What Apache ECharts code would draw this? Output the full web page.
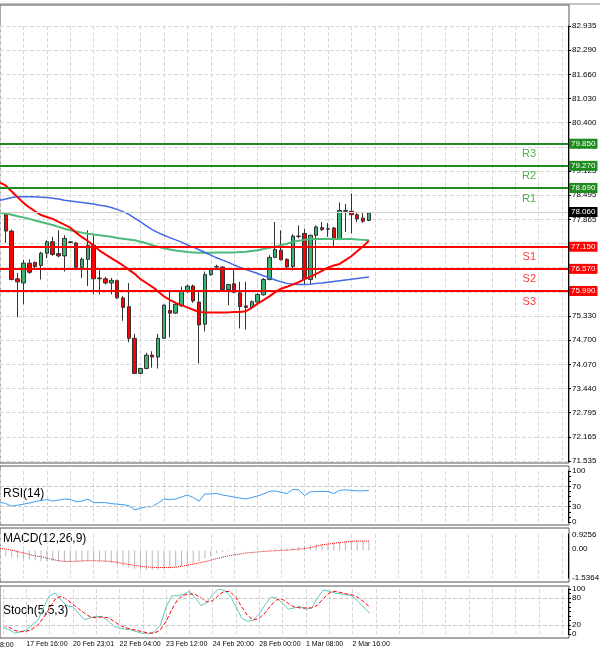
<!DOCTYPE html>
<html>
<head>
<meta charset="utf-8">
<script src="https://cdn.jsdelivr.net/npm/echarts@6/dist/echarts.min.js"></script>
<style>
html,body{margin:0;padding:0;background:#fff;}
#chart{width:600px;height:656px;}
</style>
</head>
<body>
<div id="chart"></div>
<script>
// candles: [open, close, low, high]
var candles = [
  [78.03,77.56,77.25,78.06],[77.56,76.29,76.27,77.60],[76.31,76.23,75.30,76.46],[76.20,76.72,75.64,76.81],
  [76.72,76.48,76.44,76.82],[76.74,76.63,76.59,76.76],[76.66,76.98,76.29,77.02],[76.98,77.28,76.85,77.32],
  [77.28,76.95,76.91,77.41],[76.97,76.91,76.87,77.58],[76.91,77.37,76.50,77.45],[77.28,77.26,77.25,77.30],
  [77.25,76.61,76.57,77.28],[76.61,76.82,76.33,76.87],[76.82,77.19,76.12,77.58],[77.19,76.31,75.90,77.45],
  [76.33,76.31,75.90,76.55],[76.31,76.20,76.16,76.36],[76.20,76.27,75.90,76.33],[76.26,75.81,75.79,76.29],
  [75.81,75.56,75.21,75.86],[75.58,74.75,74.65,76.20],[74.75,73.83,73.81,74.87],[73.83,73.96,73.81,73.98],
  [73.96,74.31,73.94,74.37],[74.31,74.26,73.98,74.41],[74.26,74.75,73.96,74.87],[74.75,75.62,74.74,75.64],
  [75.48,75.41,74.78,75.99],[75.41,75.64,75.39,75.70],[75.60,75.99,75.58,76.10],[75.99,76.12,75.94,76.16],
  [76.12,75.73,75.68,76.16],[75.70,75.10,74.09,75.99],[75.12,76.42,74.93,76.50],[76.42,76.55,76.39,76.59],
  [76.63,76.62,76.55,76.68],[76.62,76.03,76.01,76.63],[76.03,76.16,75.62,76.18],[76.18,75.96,75.93,76.55],
  [75.94,75.58,75.01,76.23],[75.60,75.56,74.98,76.23],[75.56,75.71,75.53,75.74],[75.70,75.90,75.68,75.93],
  [75.89,76.29,75.87,76.33],[76.29,76.87,76.27,76.93],[76.87,77.08,76.85,77.80],[77.06,76.81,76.79,77.58],
  [76.82,76.62,76.56,76.85],[76.63,77.43,76.53,77.48],[77.43,77.42,77.37,77.71],[77.50,76.31,76.16,77.62],
  [76.29,77.45,76.16,77.47],[77.45,77.67,76.33,77.71],[77.65,77.60,77.56,77.80],[77.62,77.61,77.41,77.77],
  [77.64,77.37,77.17,77.67],[77.35,78.10,77.32,78.31],[78.10,78.08,77.54,78.27],[78.08,77.99,77.50,78.55],
  [77.99,77.88,77.80,78.03],[77.90,77.82,77.77,78.03],[77.84,78.04,77.82,78.06]
];
// moving averages, first value is the left edge of the chart
var maRed = [78.83,78.75,78.60,78.45,78.30,78.18,78.08,77.98,77.93,77.88,77.80,77.73,77.65,77.52,77.40,77.30,77.18,
  77.05,76.95,76.85,76.76,76.66,76.55,76.44,76.30,76.20,76.10,75.98,75.85,75.76,75.68,75.62,75.56,75.50,75.44,
  75.43,75.43,75.43,75.43,75.43,75.44,75.44,75.46,75.55,75.66,75.75,75.85,75.96,76.05,76.10,76.16,76.22,76.30,
  76.36,76.44,76.52,76.60,76.66,76.70,76.80,76.90,77.03,77.16,77.31];
var maGreen = [78.04,78.02,77.99,77.95,77.92,77.88,77.84,77.80,77.76,77.72,77.67,77.62,77.58,77.55,77.52,77.49,77.47,
  77.45,77.43,77.41,77.38,77.36,77.34,77.32,77.28,77.24,77.19,77.15,77.11,77.08,77.05,77.03,77.01,77.00,76.99,
  76.99,76.99,77.00,77.00,77.00,77.00,77.01,77.02,77.04,77.06,77.09,77.12,77.15,77.19,77.23,77.28,77.31,77.33,
  77.35,77.35,77.35,77.35,77.35,77.35,77.35,77.35,77.34,77.33,77.32];
var maBlue = [78.37,78.40,78.44,78.46,78.46,78.46,78.46,78.45,78.44,78.42,78.40,78.37,78.35,78.33,78.31,78.29,78.27,
  78.24,78.22,78.18,78.13,78.07,78.00,77.90,77.80,77.70,77.60,77.52,77.45,77.39,77.33,77.27,77.20,77.14,77.07,
  77.00,76.93,76.86,76.80,76.74,76.67,76.61,76.55,76.50,76.45,76.39,76.34,76.28,76.23,76.19,76.17,76.16,76.16,
  76.17,76.19,76.20,76.22,76.24,76.26,76.28,76.30,76.32,76.34,76.36];
var rsi = [39,36,31,33,35,37,40,42,44,41,43,45,44,40,41,45,38,38,38,36,35,34,32,24,27,30,30,37,45,44,45,49,53,48,41,
  55,55,56,53,51,49,47,45,48,51,55,60,61,58,56,64,63,52,59,60,60,60,56,62,63,62,61,61,62];
var macdHist = [-0.28,-0.32,-0.36,-0.40,-0.44,-0.50,-0.55,-0.60,-0.60,-0.60,-0.60,-0.60,-0.60,-0.60,-0.60,-0.60,-0.60,
  -0.62,-0.66,-0.70,-0.78,-0.88,-0.95,-1.02,-1.06,-1.08,-1.08,-1.08,-1.06,-1.00,-0.92,-0.86,-0.78,-0.70,-0.60,
  -0.45,-0.32,-0.15,-0.08,-0.04,-0.03,-0.01,0.00,0.00,0.02,0.04,0.06,0.08,0.10,0.11,0.15,0.20,0.25,0.28,0.33,
  0.37,0.40,0.44,0.48,0.50,0.52,0.53,0.53,0.53];
var macdSignal = [0.11,0.08,0.02,-0.06,-0.13,-0.22,-0.30,-0.34,-0.42,-0.50,-0.57,-0.61,-0.61,-0.60,-0.58,-0.57,-0.57,
  -0.58,-0.59,-0.61,-0.66,-0.72,-0.78,-0.84,-0.88,-0.92,-0.94,-0.95,-0.95,-0.95,-0.93,-0.88,-0.82,-0.75,-0.69,
  -0.62,-0.54,-0.45,-0.37,-0.30,-0.24,-0.19,-0.14,-0.11,-0.08,-0.05,-0.03,-0.01,0.00,0.02,0.05,0.08,0.11,0.16,
  0.24,0.32,0.36,0.40,0.44,0.48,0.51,0.53,0.53,0.53];
var stochMain = [14,10,2,5,9,20,31,60,85,91,75,62,61,45,32,36,39,39,30,18,13,11,9,5,1,0,5,20,60,85,85,88,95,80,63,70,
  88,100,97,85,60,35,28,31,45,65,82,80,68,55,58,61,55,58,80,98,95,91,89,87,84,72,58,46];
var stochSignal = [20,15,8,5,6,11,20,37,58,78,84,76,66,56,46,38,36,38,36,29,20,14,11,8,5,2,2,9,28,55,77,86,89,88,80,
  71,74,86,95,94,81,60,41,31,35,47,64,76,77,68,60,58,58,58,64,79,91,95,92,89,87,81,71,59];

var priceTicks = ['71.535','72.165','72.795','73.440','74.070','74.700','75.330','','','','77.865','78.495',
  '79.125','79.770','80.400','81.030','81.660','82.290','82.935'];
var levels = [
  {name: 'R3', value: 79.85, color: '#1e8c1e', text: '#4caf50'},
  {name: 'R2', value: 79.27, color: '#1e8c1e', text: '#4caf50'},
  {name: 'R1', value: 78.69, color: '#1e8c1e', text: '#4caf50'},
  {name: 'S1', value: 77.15, color: '#ff0000', text: '#ff3b3b'},
  {name: 'S2', value: 76.57, color: '#ff0000', text: '#ff3b3b'},
  {name: 'S3', value: 75.99, color: '#ff0000', text: '#ff3b3b'}
];
var lastPrice = 78.06;
var timeLabels = {4: '17 Feb 16:00', 12: '20 Feb 23:01', 20: '22 Feb 04:00', 28: '23 Feb 12:00',
  36: '24 Feb 20:00', 44: '28 Feb 00:00', 52: '1 Mar 08:00', 60: '2 Mar 16:00'};

var N = 98;
var cats = [];
for (var i = 0; i < N; i++) cats.push(String(i));

var font = 'Liberation Sans';
var grids = [
  {left: 0, width: 568, top: 26, height: 435},
  {left: 0, width: 568, top: 471, height: 51},
  {left: 0, width: 568, top: 534, height: 44},
  {left: 0, width: 568, top: 589, height: 45}
];

function xAx(gi, withLabels) {
  return {
    type: 'category', gridIndex: gi, data: cats, boundaryGap: false,
    axisLine: {show: false}, axisTick: {show: false},
    axisLabel: withLabels ? {
      show: true, interval: 0, align: 'left', fontSize: 7, fontFamily: font, color: '#000', margin: 7,
      formatter: function (v, idx) { return timeLabels[idx] || ''; }
    } : {show: false},
    splitLine: {show: true, interval: 3, lineStyle: {color: '#d8d8d8', type: 'dashed', width: 1}}
  };
}
function yAx(gi, min, max, interval, shown, split) {
  return {
    type: 'value', gridIndex: gi, position: 'right', min: min, max: max, interval: interval, scale: true,
    axisLine: {show: true, lineStyle: {color: '#000'}},
    axisTick: {show: true, length: 3, lineStyle: {color: '#000'}},
    axisLabel: {show: true, fontSize: 8, fontFamily: font, color: '#000', margin: 4,
      formatter: function (v) { return shown(v); }},
    splitLine: {show: split, lineStyle: {color: '#d8d8d8', type: 'dashed'}}
  };
}
var step = (82.935 - 71.535) / 18;

var lvlLines = [];
var nameLines = [];
levels.forEach(function (l) {
  lvlLines.push({yAxis: l.value, lineStyle: {color: l.color, width: 2, type: 'solid'},
    label: {show: true, position: 'end', distance: 1, formatter: l.value.toFixed(3), color: '#fff',
      backgroundColor: l.color, fontSize: 8, fontFamily: font, padding: [1, 2]}});
  nameLines.push({yAxis: l.value, lineStyle: {color: 'rgba(0,0,0,0)', width: 0},
    label: {show: true, position: 'insideEndBottom', distance: [32, 5], formatter: l.name,
      color: l.text, fontSize: 11, fontFamily: font}});
});
lvlLines.push({yAxis: lastPrice, lineStyle: {color: '#cfcfcf', width: 1, type: 'solid'},
  label: {show: true, position: 'end', distance: 1, formatter: lastPrice.toFixed(3), color: '#fff',
    backgroundColor: '#000', fontSize: 8, fontFamily: font, padding: [1, 2]}});

function pad(arr) { return ['-'].concat(arr); }
function lvl(vals, dash) {
  return vals.map(function (v) { return {yAxis: v, lineStyle: {color: '#c8c8c8', type: dash, width: 1}, label: {show: false}}; });
}

var option = {
  animation: false,
  backgroundColor: '#fff',
  grid: grids,
  xAxis: [xAx(0, false), xAx(1, false), xAx(2, false), xAx(3, true)],
  yAxis: [
    yAx(0, 71.535, 82.935, step, function (v) { return priceTicks[Math.round((v - 71.535) / step)] || ''; }, true),
    yAx(1, 0, 100, 10, function (v) { return [0, 30, 70, 100].indexOf(Math.round(v)) >= 0 ? String(Math.round(v)) : ''; }, false),
    {type: 'value', gridIndex: 2, position: 'right', min: -1.5364, max: 0.9256,
      axisLine: {show: true, lineStyle: {color: '#000'}}, axisTick: {show: false}, axisLabel: {show: false}, splitLine: {show: false}},
    yAx(3, 0, 100, 10, function (v) { return [0, 20, 80, 100].indexOf(Math.round(v)) >= 0 ? String(Math.round(v)) : ''; }, false)
  ],
  graphic: [
    {type: 'rect', shape: {x: 0, y: 5, width: 569, height: 458}, style: {fill: 'none', stroke: '#555', lineWidth: 1}, silent: true},
    {type: 'rect', shape: {x: 0, y: 466, width: 569, height: 59}, style: {fill: 'none', stroke: '#555', lineWidth: 1}, silent: true},
    {type: 'rect', shape: {x: 0, y: 528, width: 569, height: 54}, style: {fill: 'none', stroke: '#555', lineWidth: 1}, silent: true},
    {type: 'rect', shape: {x: 0, y: 586, width: 569, height: 52}, style: {fill: 'none', stroke: '#555', lineWidth: 1}, silent: true},
    {type: 'line', shape: {x1: 0, y1: 4, x2: 600, y2: 4}, style: {stroke: '#888', lineWidth: 1}, silent: true},
    {type: 'text', left: 3, top: 488, style: {text: 'RSI(14)', fontSize: 12, fontFamily: font, fill: '#000'}},
    {type: 'text', left: 3, top: 533, style: {text: 'MACD(12,26,9)', fontSize: 12, fontFamily: font, fill: '#000'}},
    {type: 'text', left: 3, top: 605, style: {text: 'Stoch(5,5,3)', fontSize: 12, fontFamily: font, fill: '#000'}},
    {type: 'text', left: 0, top: 642, style: {text: '8:00', fontSize: 7, fontFamily: font, fill: '#000'}},
    {type: 'text', left: 572, top: 531, style: {text: '0.9256', fontSize: 8, fontFamily: font, fill: '#000'}},
    {type: 'text', left: 572, top: 545, style: {text: '0.00', fontSize: 8, fontFamily: font, fill: '#000'}},
    {type: 'text', left: 572, top: 574, style: {text: '-1.5364', fontSize: 8, fontFamily: font, fill: '#000'}}
  ],
  series: [
    {
      type: 'candlestick', xAxisIndex: 0, yAxisIndex: 0, data: pad(candles), barWidth: 4,
      itemStyle: {color: '#3cb371', color0: '#ff0000', borderColor: '#333', borderColor0: '#333', borderWidth: 1},
      markLine: {silent: true, symbol: 'none', data: lvlLines}
    },
    {type: 'line', xAxisIndex: 0, yAxisIndex: 0, data: maGreen, symbol: 'none', lineStyle: {color: '#4cbb7a', width: 2}, z: 3,
      markLine: {silent: true, symbol: 'none', data: nameLines}},
    {type: 'line', xAxisIndex: 0, yAxisIndex: 0, data: maBlue, symbol: 'none', lineStyle: {color: '#4169e1', width: 1.5}, z: 3},
    {type: 'line', xAxisIndex: 0, yAxisIndex: 0, data: maRed, symbol: 'none', lineStyle: {color: '#ff0000', width: 2}, z: 3},
    {type: 'line', xAxisIndex: 1, yAxisIndex: 1, data: rsi, symbol: 'none', lineStyle: {color: '#3d9bf0', width: 1},
      markLine: {silent: true, symbol: 'none', data: lvl([30, 70], 'dashed')}},
    {type: 'bar', xAxisIndex: 2, yAxisIndex: 2, data: macdHist, barWidth: 1, itemStyle: {color: '#b8b8b8'}},
    {type: 'line', xAxisIndex: 2, yAxisIndex: 2, data: macdSignal, symbol: 'none', lineStyle: {color: '#ff0000', width: 1, type: 'dotted'}},
    {type: 'line', xAxisIndex: 3, yAxisIndex: 3, data: stochMain, symbol: 'none', lineStyle: {color: '#5cc8bd', width: 1},
      markLine: {silent: true, symbol: 'none', data: lvl([20, 80], 'dashed')}},
    {type: 'line', xAxisIndex: 3, yAxisIndex: 3, data: stochSignal, symbol: 'none', lineStyle: {color: '#ff0000', width: 1, type: 'dashed'}}
  ]
};
var myChart = echarts.init(document.getElementById('chart'));
myChart.setOption(option);
</script>
</body>
</html>
